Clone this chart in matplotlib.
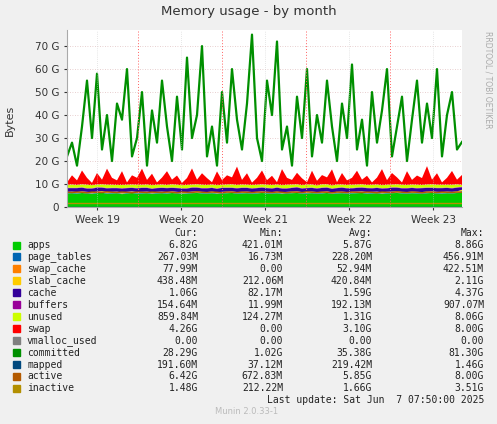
import numpy as np
import matplotlib
matplotlib.use("Agg")
import matplotlib.pyplot as plt

apps = [5.9,6.0,5.8,6.1,5.9,5.7,6.0,6.2,5.8,5.9,6.0,5.6,5.9,6.1,5.8,5.9,6.0,5.7,5.9,6.0,
        5.8,6.1,5.9,5.7,5.8,6.0,6.1,5.9,5.8,6.0,5.7,5.9,6.0,6.1,5.8,5.9,6.0,5.8,5.9,6.1,
        5.9,5.8,6.0,5.7,5.9,6.0,6.1,5.8,5.9,6.0,5.8,5.9,6.1,5.7,5.9,6.0,5.8,5.9,6.0,6.1,
        5.8,5.9,6.0,5.7,5.9,6.0,6.1,5.9,5.8,6.0,5.9,5.8,6.0,6.1,5.9,5.8,6.0,5.9,6.1,6.8]
page_tables = [0.23]*80
swap_cache = [0.05]*80
slab_cache = [0.42]*80
cache = [1.6,1.5,1.7,1.6,1.4,1.6,1.7,1.5,1.6,1.6,1.5,1.7,1.6,1.5,1.6,1.7,1.6,1.5,1.6,1.6,
         1.7,1.5,1.6,1.6,1.5,1.7,1.6,1.5,1.6,1.6,1.5,1.7,1.6,1.5,1.6,1.7,1.6,1.5,1.6,1.6,
         1.6,1.5,1.7,1.6,1.4,1.6,1.7,1.5,1.6,1.6,1.5,1.7,1.6,1.5,1.6,1.7,1.6,1.5,1.6,1.6,
         1.7,1.5,1.6,1.6,1.5,1.7,1.6,1.5,1.6,1.6,1.5,1.7,1.6,1.5,1.6,1.7,1.6,1.5,1.6,1.1]
buffers = [0.19]*80
unused = [1.3,1.4,1.2,1.3,1.5,1.3,1.2,1.3,1.4,1.3,1.2,1.4,1.3,1.3,1.4,1.2,1.3,1.4,1.3,1.3,
          1.2,1.4,1.3,1.3,1.4,1.2,1.3,1.4,1.3,1.3,1.4,1.2,1.3,1.4,1.3,1.3,1.2,1.4,1.3,1.3,
          1.3,1.4,1.2,1.3,1.5,1.3,1.2,1.3,1.4,1.3,1.2,1.4,1.3,1.3,1.4,1.2,1.3,1.4,1.3,1.3,
          1.2,1.4,1.3,1.3,1.4,1.2,1.3,1.4,1.3,1.3,1.4,1.2,1.3,1.4,1.3,1.3,1.2,1.4,1.3,0.86]
swap = [1,4,2,6,3,1,5,2,7,3,2,6,1,4,3,7,2,5,1,3,
        6,2,4,1,3,7,2,5,3,1,6,2,4,3,8,2,5,1,3,6,
        2,4,1,7,3,2,5,3,1,6,2,4,3,7,1,5,2,3,6,2,
        4,1,3,7,2,5,3,1,6,2,4,3,8,2,5,1,3,6,2,4.3]
vmalloc_used = [0.0]*80
committed = [22,28,18,35,55,30,58,25,40,20,45,38,60,22,30,50,18,42,28,55,
             35,20,48,25,65,30,40,70,22,35,18,50,28,60,38,25,45,75,30,20,
             55,40,72,25,35,18,48,30,60,22,40,28,55,35,20,45,30,62,25,38,
             18,50,28,42,60,22,35,48,20,38,55,28,45,30,60,22,40,50,25,28.3]
mapped = [0.2]*80
active = [6.4,6.3,6.5,6.4,6.2,6.5,6.4,6.3,6.6,6.4,6.3,6.5,6.4,6.2,6.5,6.4,6.3,6.5,6.4,6.3,
          6.5,6.4,6.2,6.5,6.4,6.3,6.6,6.4,6.3,6.5,6.4,6.2,6.5,6.4,6.3,6.5,6.4,6.3,6.5,6.4,
          6.4,6.3,6.5,6.4,6.2,6.5,6.4,6.3,6.6,6.4,6.3,6.5,6.4,6.2,6.5,6.4,6.3,6.5,6.4,6.3,
          6.5,6.4,6.2,6.5,6.4,6.3,6.6,6.4,6.3,6.5,6.4,6.2,6.5,6.4,6.3,6.5,6.4,6.3,6.5,6.4]
inactive = [1.6]*80

names = ["apps","page_tables","swap_cache","slab_cache","cache","buffers","unused","swap",
         "vmalloc_used","committed","mapped","active","inactive"]
colors = ["#00CC00","#0066B3","#FF8000","#FFCC00","#330099","#990099","#CCFF00","#FF0000",
          "#808080","#008F00","#00487D","#B35A00","#B38F00"]
cur = ["6.82G","267.03M","77.99M","438.48M","1.06G","154.64M","859.84M","4.26G","0.00","28.29G","191.60M","6.42G","1.48G"]
mins = ["421.01M","16.73M","0.00","212.06M","82.17M","11.99M","124.27M","0.00","0.00","1.02G","37.12M","672.83M","212.22M"]
avgs = ["5.87G","228.20M","52.94M","420.84M","1.59G","192.13M","1.31G","3.10G","0.00","35.38G","219.42M","5.85G","1.66G"]
maxs = ["8.86G","456.91M","422.51M","2.11G","4.37G","907.07M","8.06G","8.00G","0.00","81.30G","1.46G","8.00G","3.51G"]
week_labels = ["Week 19","Week 20","Week 21","Week 22","Week 23"]

W, H = 497, 424
fig = plt.figure(figsize=(W/100, H/100), dpi=100, facecolor="#F0F0F0")
ax = fig.add_axes([67/W, 1-207/H, (462-67)/W, (207-30)/H])
ax.set_facecolor("white")
x = np.linspace(0, 4.7, 80)
stack = [apps, page_tables, swap_cache, slab_cache, cache, buffers, unused, swap]
ax.stackplot(x, *stack, colors=colors[:8], linewidth=0)
for s, c, lw in [(committed, colors[9], 1.6), (mapped, colors[10], 1.0), (active, colors[11], 1.0), (inactive, colors[12], 1.0)]:
    ax.plot(x, s, color=c, lw=lw)
ax.set_xlim(0, 4.7)
ax.set_ylim(0, 77)
ax.set_yticks([0,10,20,30,40,50,60,70])
ax.set_yticklabels(["0"]+[f"{v} G" for v in range(10,80,10)])
ax.set_xticks([0.357+i for i in range(5)])
ax.set_xticklabels(week_labels)
ax.grid(axis="y", color="#E0C0C0", ls=(0,(1,2)), lw=0.6)
for i in range(4):
    ax.axvline(0.845+i, color="#FF6060", ls=(0,(1,2)), lw=0.7)
for xv in [0.357+i for i in range(5)]:
    ax.axvline(xv, color="#D0D0D0", ls=(0,(1,2)), lw=0.5)
ax.tick_params(labelsize=7.5, length=2, colors="#333333")
for sp in ["top","right"]:
    ax.spines[sp].set_visible(False)
for sp in ["left","bottom"]:
    ax.spines[sp].set_color("#AAAAAA")
fig.text(0.5, 1-12/H, "Memory usage - by month", ha="center", va="center", fontsize=9.5, color="#333333")
fig.text(10/W, 1-120/H, "Bytes", rotation=90, ha="center", va="center", fontsize=8, color="#333333")
fig.text(488/W, 1-80/H, "RRDTOOL / TOBI OETIKER", rotation=270, ha="center", va="center", fontsize=5.5, color="#AAAAAA")

mono = dict(family="DejaVu Sans Mono", fontsize=7, color="#222222")
hy = 233
for lbl, xr in [("Cur:",198),("Min:",283),("Avg:",372),("Max:",484)]:
    fig.text(xr/W, 1-hy/H, lbl, ha="right", va="center", **mono)
for i, n in enumerate(names):
    y = 245 + i*11.95
    fig.patches.append(plt.Rectangle((13/W, 1-(y+3.5)/H), 7/W, 7/H, transform=fig.transFigure, color=colors[i]))
    fig.text(27/W, 1-y/H, n, ha="left", va="center", **mono)
    for v, xr in [(cur[i],198),(mins[i],283),(avgs[i],372),(maxs[i],484)]:
        fig.text(xr/W, 1-y/H, v, ha="right", va="center", **mono)
fig.text(484/W, 1-400/H, "Last update: Sat Jun  7 07:50:00 2025", ha="right", va="center", **mono)
fig.text(247/W, 1-412/H, "Munin 2.0.33-1", ha="center", va="center", fontsize=6, color="#BBBBBB")
fig.savefig("out.png", dpi=100, facecolor=fig.get_facecolor())
